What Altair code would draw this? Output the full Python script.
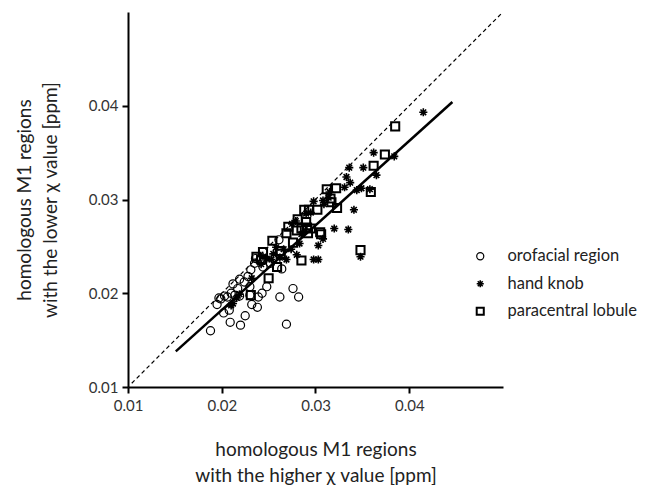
import altair as alt
import pandas as pd

groups = ["orofacial region", "hand knob", "paracentral lobule"]

oro_x = [0.0188, 0.0195, 0.0197, 0.0199, 0.0202, 0.0203, 0.0206, 0.0208, 0.0209, 0.0210,
         0.0212, 0.0214, 0.0217, 0.0219, 0.0219, 0.0220, 0.0225, 0.0228, 0.0230, 0.0231,
         0.0230, 0.0232, 0.0238, 0.0239, 0.0243, 0.0244, 0.0248, 0.0236, 0.0252, 0.0261,
         0.0264, 0.0262, 0.0269, 0.0276, 0.0282, 0.0235, 0.0224]
oro_y = [0.0160, 0.0188, 0.0195, 0.0194, 0.0179, 0.0197, 0.0196, 0.0182, 0.0169, 0.0200,
         0.0210, 0.0198, 0.0205, 0.0215, 0.0197, 0.0166, 0.0176, 0.0218, 0.0207, 0.0225,
         0.0198, 0.0188, 0.0185, 0.0196, 0.0200, 0.0228, 0.0207, 0.0237, 0.0232, 0.0257,
         0.0226, 0.0196, 0.0167, 0.0205, 0.0196, 0.0232, 0.0212]

hand_x = [0.0415, 0.0384, 0.0362, 0.0365, 0.0351, 0.0336, 0.0333, 0.0337, 0.0331, 0.0349,
          0.0344, 0.0358, 0.0341, 0.0335, 0.0320, 0.0348, 0.0308, 0.0303, 0.0298, 0.0303,
          0.0308, 0.0309, 0.0298, 0.0295, 0.0285, 0.0283, 0.0280, 0.0275, 0.0274, 0.0269,
          0.0262, 0.0258, 0.0255, 0.0253, 0.0248, 0.0244, 0.0242, 0.0232, 0.0219, 0.0216,
          0.0212, 0.0210, 0.0315, 0.0314, 0.0279, 0.0266, 0.0290]
hand_y = [0.0393, 0.0346, 0.0350, 0.0326, 0.0334, 0.0334, 0.0324, 0.0318, 0.0313, 0.0312,
          0.0310, 0.0311, 0.0289, 0.0268, 0.0269, 0.0239, 0.0258, 0.0251, 0.0236, 0.0236,
          0.0299, 0.0295, 0.0298, 0.0286, 0.0263, 0.0253, 0.0241, 0.0274, 0.0247, 0.0236,
          0.0238, 0.0249, 0.0242, 0.0236, 0.0237, 0.0239, 0.0231, 0.0216, 0.0199, 0.0195,
          0.0189, 0.0187, 0.0308, 0.0302, 0.0277, 0.0247, 0.0285]

para_x = [0.0385, 0.0374, 0.0362, 0.0359, 0.0348, 0.0322, 0.0323, 0.0312, 0.0316, 0.0317,
          0.0306, 0.0305, 0.0302, 0.0293, 0.0288, 0.0290, 0.0291, 0.0285, 0.0295, 0.0292,
          0.0281, 0.0280, 0.0271, 0.0269, 0.0276, 0.0285, 0.0254, 0.0262, 0.0250, 0.0244,
          0.0237, 0.0242, 0.0231, 0.0259, 0.0263]
para_y = [0.0378, 0.0348, 0.0336, 0.0308, 0.0246, 0.0312, 0.0291, 0.0311, 0.0301, 0.0297,
          0.0263, 0.0265, 0.0289, 0.0289, 0.0289, 0.0276, 0.0270, 0.0269, 0.0269, 0.0264,
          0.0279, 0.0267, 0.0271, 0.0264, 0.0254, 0.0235, 0.0256, 0.0245, 0.0216, 0.0244,
          0.0239, 0.0236, 0.0198, 0.0228, 0.0242]

identity_x = [0.0104, 0.05]
identity_y = [0.0104, 0.05]
fit_x = [0.0151, 0.0446]
fit_y = [0.0138, 0.0404]

ticks = [0.01, 0.02, 0.03, 0.04]

rows = []
for g, xs, ys in zip(groups, [oro_x, hand_x, para_x], [oro_y, hand_y, para_y]):
    for a, b in zip(xs, ys):
        rows.append({"x": a, "y": b, "group": g})
pts = pd.DataFrame(rows)
ident = pd.DataFrame({"x": identity_x, "y": identity_y})
fit = pd.DataFrame({"x": fit_x, "y": fit_y})

ASTER = "M0,-1L0,1M-1,0L1,0M-0.7,-0.7L0.7,0.7M-0.7,0.7L0.7,-0.7"

X = alt.X("x:Q", scale=alt.Scale(domain=[0.01, 0.05], nice=False, zero=False),
          axis=alt.Axis(values=ticks, format=".2f", labelFlush=False,
                        title=["homologous M1 regions", "with the higher \u03c7 value [ppm]"],
                        titlePadding=27, labelPadding=5))
Y = alt.Y("y:Q", scale=alt.Scale(domain=[0.01, 0.05], nice=False, zero=False),
          axis=alt.Axis(values=ticks, format=".2f", labelFlush=False,
                        title=["homologous M1 regions", "with the lower \u03c7 value [ppm]"],
                        titlePadding=28, labelPadding=4))

ident_line = alt.Chart(ident).mark_line(color="black", strokeWidth=1.2, strokeDash=[4, 3]).encode(x=X, y=Y)
fit_line = alt.Chart(fit).mark_line(color="black", strokeWidth=2.5).encode(x=X, y=Y)

points = alt.Chart(pts).mark_point(filled=False, color="black", opacity=1, size=66).encode(
    x=X, y=Y,
    shape=alt.Shape("group:N",
                    scale=alt.Scale(domain=groups, range=["circle", ASTER, "square"]),
                    legend=alt.Legend(title=None, orient="none", legendX=344, legendY=236,
                                      symbolSize=50, symbolStrokeColor="black",
                                      symbolStrokeWidth=1.4, symbolFillColor="transparent",
                                      labelFont="Lato", labelFontSize=16.5, labelColor="#222",
                                      labelOffset=19, rowPadding=10.5, labelLimit=400)),
    strokeWidth=alt.StrokeWidth("group:N",
                                scale=alt.Scale(domain=groups, range=[1.2, 2.0, 1.1]),
                                legend=None),
)

chart = alt.layer(ident_line, fit_line, points).properties(
    width=375, height=375,
    autosize=alt.AutoSizeParams(type="none"),
    padding={"left": 120, "top": 4, "right": 136, "bottom": 98},
).configure_view(stroke=None).configure_axis(
    grid=False, domainColor="black", domainWidth=2, tickColor="black", tickWidth=2,
    tickSize=6, labelFont="Lato", labelFontSize=15, labelColor="#333",
    titleFont="Lato", titleFontSize=19, titleFontWeight="normal", titleColor="#222",
    titleLineHeight=26,
)

chart.save("out.html", embed_options={"renderer": "svg", "actions": False})
